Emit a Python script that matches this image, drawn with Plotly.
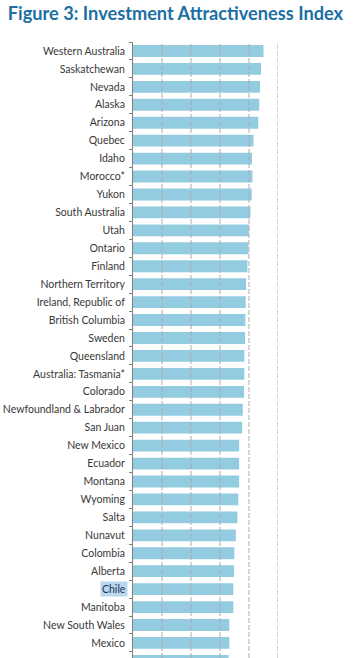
import plotly.graph_objects as go

categories = [
    "Western Australia", "Saskatchewan", "Nevada", "Alaska", "Arizona", "Quebec",
    "Idaho", "Morocco*", "Yukon", "South Australia", "Utah", "Ontario", "Finland",
    "Northern Territory", "Ireland, Republic of", "British Columbia", "Sweden",
    "Queensland", "Australia: Tasmania*", "Colorado", "Newfoundland & Labrador",
    "San Juan", "New Mexico", "Ecuador", "Montana", "Wyoming", "Salta", "Nunavut",
    "Colombia", "Alberta", "Chile", "Manitoba", "New South Wales", "Mexico", " ",
]
values = [
    90.0, 88.3, 87.6, 87.1, 86.4, 83.1,
    82.1, 82.4, 81.9, 81.0, 79.9, 79.6, 78.9,
    78.0, 77.7, 77.5, 77.3,
    76.8, 76.8, 76.6, 75.7,
    75.3, 73.2, 73.2, 73.2, 72.6, 72.0, 70.9,
    69.9, 69.7, 69.2, 69.2, 66.4, 66.4, 65.9,
]
grid_values = [20, 40, 60, 80, 100]
highlight = "Chile"

tick_text = ["" if c == highlight else c.replace("&", "&amp;") for c in categories]

fig = go.Figure()
fig.add_trace(go.Bar(
    x=values, y=categories, orientation="h",
    marker=dict(color="#93cce0", line=dict(width=0)),
    width=0.66, hoverinfo="skip",
))

for g in grid_values:
    fig.add_shape(type="line", xref="x", yref="paper", x0=g, x1=g, y0=0, y1=1,
                  line=dict(color="#ababab", width=1, dash="5px,2px"), layer="above")

fig.add_annotation(
    xref="paper", yref="y", x=0, y=highlight, xanchor="right", xshift=-5,
    text=highlight, showarrow=False, bgcolor="#b9d7ee", borderpad=1,
    font=dict(family="Lato", size=10.5, color="#1e3552"),
)

fig.update_layout(
    width=353, height=658,
    margin=dict(l=133, r=75, t=42, b=0),
    paper_bgcolor="white", plot_bgcolor="white",
    showlegend=False,
    title=dict(
        text="<b>Figure 3: Investment Attractiveness Index</b>",
        x=0.022, xanchor="left", y=0.979, yanchor="middle",
        font=dict(family="Lato", size=18.2, color="#1b6fa3"),
    ),
    xaxis=dict(range=[0, 100], showgrid=False, showticklabels=False, ticks="",
               zeroline=False, showline=False, fixedrange=True),
    yaxis=dict(
        type="category", categoryorder="array", categoryarray=categories,
        tickmode="array", tickvals=categories, ticktext=tick_text,
        range=[33.84, -0.5], tickson="boundaries", ticks="outside", ticklen=3,
        tickcolor="#7f7f7f", showline=True, linecolor="#7f7f7f", linewidth=1,
        showgrid=False, ticklabelstandoff=5,
        tickfont=dict(family="Lato", size=10.5, color="#383838"),
    ),
)

fig.write_html("out.html")
